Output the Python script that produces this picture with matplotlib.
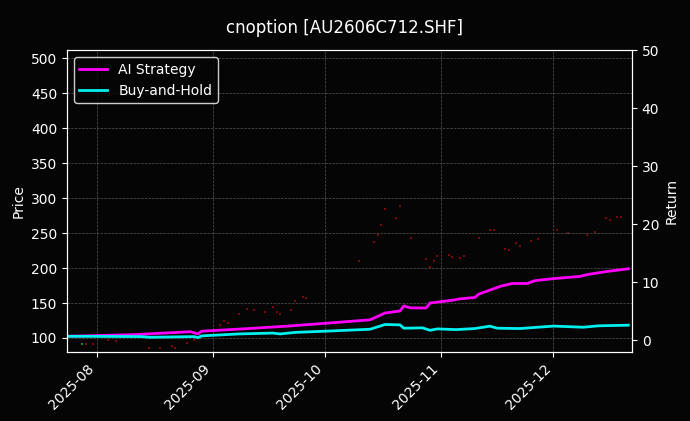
import matplotlib
matplotlib.use("Agg")
import matplotlib.pyplot as plt
import matplotlib.dates as mdates
import numpy as np
import datetime as dt

base = dt.date(2025, 8, 1)
ai_days = [-8, 10, 25, 27, 28, 39, 51, 61, 73, 77, 81, 82, 84, 88, 89, 95, 97, 101, 102, 108, 111, 115, 117, 122, 129, 131, 136, 142]
ai_vals = [102.4, 104.8, 109, 105.8, 109.7, 113, 117, 121, 126, 135.7, 138.6, 145.8, 143, 143, 150, 154, 156, 158, 162.7, 174.3, 178, 178, 182, 185, 188, 190.7, 195, 199]
bh_days = [-8, 12, 14, 26, 27, 28, 38, 47, 49, 53, 61, 73, 77, 81, 82, 87, 89, 91, 96, 101, 105, 107, 113, 122, 130, 134, 142]
bh_vals = [102.4, 102, 101, 102, 100.5, 103, 105.8, 107, 105.8, 108, 109.7, 112.5, 119.3, 118.8, 114, 114.5, 111, 113, 112, 113.5, 116.9, 114, 113.5, 117, 115.4, 117.4, 118.3]
px_days = [-3, -1, 3, 5, 14, 17, 20, 21, 24, 26, 33, 34, 35, 38, 40, 42, 45, 47, 48, 49, 52, 53, 55, 56, 70, 74, 75, 76, 77, 80, 81, 84, 88, 89, 90, 91, 94, 95, 97, 98, 102, 105, 106, 109, 110, 112, 113, 116, 118, 123, 126, 131, 133, 136, 137, 139, 140]
px_vals = [92, 92, 97, 96, 85.5, 86, 89, 85.5, 93, 97, 118, 124, 121, 134, 141.5, 140, 137.6, 145, 137, 134, 140, 153, 158, 157, 209.5, 237, 247.7, 261, 285, 272, 289, 243, 213, 202, 210.5, 216.8, 218.7, 215.8, 214, 217, 243, 255, 255, 228, 226, 236, 231, 238.5, 241, 254, 250.6, 246.7, 251.5, 271, 269, 273.7, 273.7]
green_days = [-4]
green_vals = [92]

def todates(d):
    return [base + dt.timedelta(days=int(x)) for x in d]

fig = plt.figure(figsize=(6.9, 4.21), dpi=100, facecolor="#050505")
ax = fig.add_axes([0.097, 0.164, 0.819, 0.717], facecolor="#050505")
ax2 = ax.twinx()
ax.scatter(todates(px_days), px_vals, s=1.5, color="#7a0a0a", marker="s", linewidths=0)
ax.scatter(todates(green_days), green_vals, s=2, color="#1a8a1a", marker="s", linewidths=0)
ax.plot(todates(ai_days), ai_vals, color="#ff00ff", lw=2, label="AI Strategy")
ax.plot(todates(bh_days), bh_vals, color="#00f0f0", lw=2, label="Buy-and-Hold")
ax.set_xlim(dt.date(2025, 7, 24), dt.date(2025, 12, 22))
ax.set_ylim(80, 512)
ax.set_yticks(np.arange(100, 501, 50))
ax2.set_ylim(-2, 50)
ax2.set_yticks(np.arange(0, 51, 10))
ax.xaxis.set_major_locator(mdates.MonthLocator())
ax.xaxis.set_major_formatter(mdates.DateFormatter("%Y-%m"))
plt.setp(ax.get_xticklabels(), rotation=45, ha="right")
for a in (ax, ax2):
    a.tick_params(colors="white", labelsize=10)
    for s in a.spines.values():
        s.set_color("white")
ax.grid(True, color="#555555", ls="--", lw=0.5)
ax.set_ylabel("Price", color="white")
ax2.set_ylabel("Return", color="white")
leg = ax.legend(loc="upper left", facecolor="#050505", edgecolor="white", fontsize=10)
for t in leg.get_texts():
    t.set_color("white")
fig.suptitle("cnoption [AU2606C712.SHF]", color="white", fontsize=12, y=0.955)
fig.savefig("out.png", dpi=100, facecolor=fig.get_facecolor())
